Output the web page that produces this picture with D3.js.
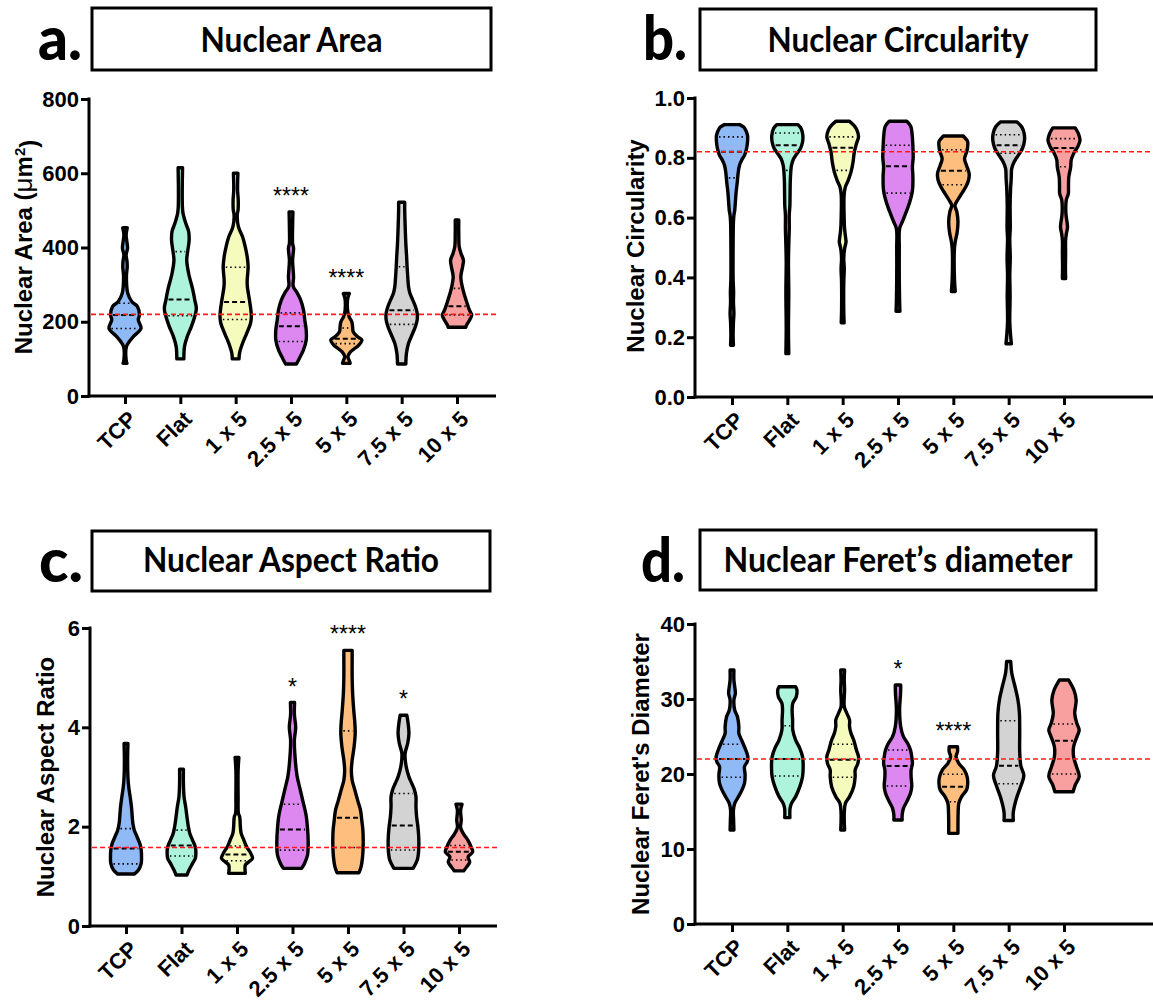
<!DOCTYPE html>
<html>
<head>
<meta charset="utf-8">
<script src="https://cdn.jsdelivr.net/npm/d3@7"></script>
<style>
  body { margin: 0; background: #fff; }
  svg { display: block; }
</style>
</head>
<body>
<div id="chart"></div>
<script>
const width = 1153;
const height = 1007;

const groups = ["TCP", "Flat", "1 x 5", "2.5 x 5", "5 x 5", "7.5 x 5", "10 x 5"];
const fills = ["#8fbaf6", "#aef4dc", "#f4fbbd", "#dd88f1", "#fdbe7e", "#d3d3d3", "#f8a0a0"];

// violin outlines: [value, relative half-width], top to bottom
const areaProfiles = [
  [[453, 0.14], [434, 0.07], [415, 0.12], [398, 0.16], [380, 0.07], [365, 0.12], [348, 0.14], [322, 0.09], [277, 0.17], [254, 0.43], [241, 0.78], [218, 0.9], [205, 0.83], [182, 1.0], [160, 0.52], [146, 0.26], [133, 0.09], [97, 0.07], [88, 0.12]],
  [[615, 0.14], [560, 0.12], [510, 0.13], [492, 0.17], [465, 0.34], [443, 0.52], [420, 0.55], [393, 0.47], [366, 0.4], [330, 0.52], [286, 0.78], [259, 0.9], [236, 1.0], [214, 0.9], [187, 0.69], [160, 0.43], [133, 0.26], [100, 0.22]],
  [[600, 0.14], [555, 0.12], [528, 0.16], [501, 0.15], [488, 0.1], [456, 0.17], [429, 0.43], [402, 0.6], [375, 0.72], [348, 0.78], [312, 0.72], [295, 0.73], [259, 0.86], [232, 0.95], [214, 0.98], [196, 0.93], [169, 0.69], [142, 0.43], [115, 0.24], [100, 0.21]],
  [[496, 0.12], [456, 0.1], [411, 0.1], [398, 0.16], [366, 0.1], [321, 0.16], [295, 0.14], [281, 0.34], [259, 0.6], [232, 0.78], [205, 0.86], [178, 0.95], [151, 0.95], [124, 0.78], [101, 0.52], [86, 0.34]],
  [[276, 0.19], [268, 0.12], [258, 0.07], [230, 0.08], [214, 0.17], [200, 0.34], [187, 0.39], [173, 0.43], [160, 0.69], [151, 0.97], [137, 0.78], [128, 0.52], [119, 0.26], [106, 0.1], [97, 0.17], [88, 0.24]],
  [[522, 0.19], [501, 0.19], [456, 0.22], [411, 0.26], [375, 0.31], [348, 0.34], [321, 0.38], [294, 0.43], [276, 0.52], [259, 0.69], [241, 0.86], [223, 0.97], [205, 0.97], [187, 0.86], [169, 0.69], [142, 0.43], [115, 0.3], [86, 0.26]],
  [[474, 0.11], [438, 0.11], [402, 0.14], [384, 0.25], [366, 0.4], [348, 0.35], [321, 0.24], [285, 0.38], [258, 0.57], [231, 0.78], [218, 0.92], [204, 0.78], [191, 0.6], [185, 0.55]]
];
const areaMedian = [218, 260, 253, 188, 154, 231, 242];
const areaQ1 = [182, 216, 206, 147, 141, 193, 218];
const areaQ3 = [250, 389, 347, 224, 183, 348, 290];
const areaStars = ["", "", "", "****", "****", "", ""];

const circProfiles = [
  [[0.911, 0.47], [0.903, 0.73], [0.892, 0.86], [0.875, 0.97], [0.853, 0.97], [0.831, 0.91], [0.808, 0.78], [0.792, 0.6], [0.775, 0.47], [0.752, 0.39], [0.719, 0.33], [0.686, 0.26], [0.652, 0.21], [0.624, 0.17], [0.608, 0.12], [0.586, 0.09], [0.507, 0.07], [0.396, 0.07], [0.351, 0.1], [0.318, 0.09], [0.279, 0.12], [0.251, 0.09], [0.206, 0.07], [0.173, 0.09]],
  [[0.911, 0.65], [0.898, 0.86], [0.875, 0.97], [0.853, 0.95], [0.831, 0.82], [0.814, 0.6], [0.797, 0.39], [0.775, 0.26], [0.73, 0.19], [0.675, 0.17], [0.641, 0.16], [0.608, 0.12], [0.563, 0.12], [0.507, 0.09], [0.451, 0.07], [0.351, 0.09], [0.228, 0.07], [0.145, 0.09]],
  [[0.922, 0.43], [0.909, 0.69], [0.892, 0.9], [0.87, 0.99], [0.847, 0.86], [0.82, 0.73], [0.786, 0.65], [0.752, 0.52], [0.724, 0.34], [0.703, 0.17], [0.675, 0.09], [0.608, 0.09], [0.563, 0.12], [0.53, 0.19], [0.519, 0.21], [0.496, 0.12], [0.463, 0.07], [0.43, 0.1], [0.385, 0.07], [0.285, 0.07], [0.248, 0.09]],
  [[0.922, 0.55], [0.905, 0.8], [0.88, 0.88], [0.84, 0.93], [0.8, 0.95], [0.77, 0.9], [0.74, 0.93], [0.7, 0.92], [0.68, 0.87], [0.65, 0.72], [0.62, 0.52], [0.59, 0.3], [0.563, 0.1], [0.5, 0.08], [0.4, 0.08], [0.32, 0.1], [0.287, 0.12]],
  [[0.873, 0.62], [0.858, 0.86], [0.853, 0.9], [0.825, 0.86], [0.797, 0.7], [0.775, 0.82], [0.747, 0.99], [0.725, 0.95], [0.703, 0.78], [0.68, 0.52], [0.658, 0.26], [0.641, 0.1], [0.619, 0.22], [0.586, 0.29], [0.552, 0.24], [0.519, 0.12], [0.496, 0.07], [0.396, 0.07], [0.353, 0.12]],
  [[0.92, 0.52], [0.903, 0.82], [0.881, 0.97], [0.858, 0.99], [0.831, 0.86], [0.808, 0.6], [0.786, 0.34], [0.764, 0.19], [0.73, 0.16], [0.697, 0.12], [0.641, 0.09], [0.563, 0.1], [0.53, 0.07], [0.463, 0.1], [0.407, 0.07], [0.34, 0.09], [0.251, 0.07], [0.206, 0.12], [0.178, 0.17]],
  [[0.9, 0.7], [0.881, 0.9], [0.858, 1.0], [0.836, 0.85], [0.814, 0.6], [0.792, 0.45], [0.77, 0.42], [0.736, 0.3], [0.703, 0.28], [0.68, 0.27], [0.658, 0.14], [0.613, 0.12], [0.568, 0.22], [0.547, 0.15], [0.524, 0.1], [0.479, 0.1], [0.435, 0.09], [0.396, 0.1]]
];
const circMedian = [0.82, 0.842, 0.834, 0.772, 0.757, 0.842, 0.833];
const circQ1 = [0.733, 0.758, 0.758, 0.682, 0.71, 0.815, 0.77];
const circQ3 = [0.87, 0.883, 0.87, 0.842, 0.827, 0.877, 0.864];
const circStars = ["", "", "", "", "", "", ""];

const aspectProfiles = [
  [[3.674, 0.12], [3.339, 0.1], [3.003, 0.12], [2.802, 0.17], [2.6, 0.26], [2.4, 0.34], [2.2, 0.39], [2.064, 0.43], [1.93, 0.52], [1.797, 0.69], [1.664, 0.86], [1.529, 0.95], [1.395, 0.97], [1.26, 0.95], [1.126, 0.78], [1.046, 0.52]],
  [[3.158, 0.12], [2.87, 0.12], [2.6, 0.16], [2.4, 0.26], [2.2, 0.34], [1.997, 0.43], [1.863, 0.52], [1.73, 0.69], [1.596, 0.86], [1.462, 0.9], [1.361, 0.86], [1.26, 0.69], [1.126, 0.47], [1.026, 0.34]],
  [[3.393, 0.12], [3.138, 0.07], [2.601, 0.07], [2.266, 0.09], [2.199, 0.17], [1.998, 0.21], [1.864, 0.26], [1.73, 0.43], [1.596, 0.6], [1.462, 0.86], [1.361, 0.97], [1.294, 0.75], [1.227, 0.52], [1.06, 0.52]],
  [[4.5, 0.13], [4.25, 0.12], [4.0, 0.2], [3.75, 0.12], [3.5, 0.14], [3.03, 0.28], [2.76, 0.47], [2.5, 0.66], [2.23, 0.85], [1.96, 0.94], [1.7, 0.98], [1.43, 0.94], [1.26, 0.75], [1.16, 0.57]],
  [[5.55, 0.26], [5.35, 0.26], [5.015, 0.26], [4.68, 0.29], [4.344, 0.36], [4.076, 0.43], [3.875, 0.45], [3.607, 0.38], [3.339, 0.26], [3.138, 0.21], [2.936, 0.26], [2.735, 0.43], [2.534, 0.6], [2.333, 0.78], [2.132, 0.86], [1.93, 0.93], [1.663, 0.95], [1.395, 0.91], [1.194, 0.82], [1.073, 0.69]],
  [[4.244, 0.21], [4.076, 0.29], [3.875, 0.34], [3.674, 0.26], [3.473, 0.1], [3.205, 0.17], [3.003, 0.34], [2.869, 0.52], [2.735, 0.69], [2.601, 0.78], [2.4, 0.78], [2.199, 0.82], [1.998, 0.9], [1.797, 0.95], [1.529, 0.95], [1.328, 0.86], [1.16, 0.6]],
  [[2.454, 0.19], [2.33, 0.1], [2.13, 0.14], [1.98, 0.1], [1.85, 0.29], [1.72, 0.57], [1.59, 0.76], [1.49, 0.86], [1.39, 0.57], [1.29, 0.67], [1.19, 0.48], [1.11, 0.29]]
];
const aspectMedian = [1.56, 1.62, 1.442, 1.944, 2.179, 2.025, 1.494];
const aspectQ1 = [1.25, 1.41, 1.314, 1.528, 1.58, 1.53, 1.33];
const aspectQ3 = [1.96, 1.93, 1.61, 2.45, 3.929, 2.668, 1.62];
const aspectStars = ["", "", "", "*", "****", "*", ""];

const feretProfiles = [
  [[33.87, 0.12], [32.53, 0.12], [31.64, 0.17], [30.76, 0.21], [29.87, 0.12], [28.53, 0.17], [27.64, 0.34], [26.31, 0.43], [25.42, 0.43], [24.53, 0.6], [23.2, 0.86], [22.31, 0.99], [21.64, 0.95], [20.98, 0.78], [19.87, 0.82], [18.76, 0.78], [17.42, 0.52], [16.09, 0.17], [15.2, 0.09], [13.87, 0.1], [12.53, 0.12]],
  [[31.64, 0.52], [31.2, 0.6], [30.31, 0.56], [29.42, 0.34], [28.53, 0.3], [27.2, 0.33], [25.87, 0.34], [24.53, 0.52], [23.42, 0.78], [22.31, 0.95], [20.98, 0.99], [19.64, 0.95], [18.31, 0.78], [16.98, 0.52], [16.09, 0.26], [15.42, 0.17], [14.18, 0.16]],
  [[33.87, 0.12], [32.53, 0.1], [31.2, 0.12], [29.0, 0.1], [28.1, 0.26], [27.2, 0.43], [26.31, 0.43], [25.42, 0.52], [24.53, 0.69], [23.2, 0.86], [22.31, 0.99], [21.42, 0.95], [20.53, 0.78], [19.64, 0.78], [18.31, 0.69], [16.98, 0.43], [16.09, 0.17], [14.76, 0.1], [12.53, 0.12]],
  [[31.87, 0.17], [30.76, 0.16], [28.53, 0.1], [26.31, 0.17], [24.98, 0.34], [24.09, 0.6], [23.2, 0.78], [22.31, 0.86], [21.42, 0.9], [20.53, 0.82], [19.64, 0.82], [18.31, 0.86], [17.42, 0.78], [16.53, 0.6], [15.42, 0.34], [14.53, 0.26], [13.87, 0.26]],
  [[23.64, 0.26], [22.98, 0.26], [22.31, 0.17], [21.42, 0.34], [20.53, 0.69], [19.64, 0.86], [18.76, 0.9], [17.87, 0.82], [16.98, 0.52], [16.09, 0.34], [14.76, 0.3], [13.42, 0.29], [12.09, 0.29]],
  [[35, 0.13], [33.5, 0.19], [31.8, 0.38], [30.0, 0.57], [28.2, 0.67], [25.6, 0.69], [22.9, 0.69], [21.1, 0.76], [19.8, 0.95], [18.4, 0.76], [16.7, 0.48], [14.9, 0.29], [13.8, 0.29]],
  [[32.53, 0.29], [31.2, 0.62], [29.87, 0.76], [28.09, 0.67], [26.76, 0.8], [25.87, 0.95], [24.98, 0.81], [23.64, 0.6], [22.31, 0.6], [20.98, 0.78], [19.64, 0.95], [18.53, 0.7], [17.64, 0.57]]
];
const feretMedian = [22.0, 22.0, 21.9, 21.07, 18.31, 21.1, 24.44];
const feretQ1 = [19.56, 19.73, 19.56, 18.4, 16.31, 18.7, 20.0];
const feretQ3 = [23.96, 26.44, 23.96, 23.2, 19.96, 27.1, 26.67];
const feretStars = ["", "", "", "*", "****", "", ""];

const svg = d3
  .select("#chart")
  .append("svg")
  .attr("width", width)
  .attr("height", height)
  .style("background", "#fff");

const panels = [
  {
    letter: "a.", title: "Nuclear Area", titleW: 182, yLabel: "area",
    domain: [0, 800], ticks: [0, 200, 400, 600, 800], fmt: d3.format("d"),
    profiles: areaProfiles, median: areaMedian, q1: areaQ1, q3: areaQ3, stars: areaStars, ref: 220,
    left: 89, top: 99, bottom: 396, right: 496, c0: 125, c1: 457,
    box: [92, 8, 491, 70], letterPos: [38, 60], titleY: 52, labelPos: [32, 247]
  },
  {
    letter: "b.", title: "Nuclear Circularity", titleW: 261, yLabel: "Nuclear Circularity",
    domain: [0, 1], ticks: [0, 0.2, 0.4, 0.6, 0.8, 1.0], fmt: d3.format(".1f"),
    profiles: circProfiles, median: circMedian, q1: circQ1, q3: circQ3, stars: circStars, ref: 0.82,
    left: 695, top: 98, bottom: 397, right: 1153, c0: 732, c1: 1064,
    box: [700, 9, 1096, 70], letterPos: [643, 60], titleY: 52, labelPos: [644, 246]
  },
  {
    letter: "c.", title: "Nuclear Aspect Ratio", titleW: 296, yLabel: "Nuclear Aspect Ratio",
    domain: [0, 6], ticks: [0, 2, 4, 6], fmt: d3.format("d"),
    profiles: aspectProfiles, median: aspectMedian, q1: aspectQ1, q3: aspectQ3, stars: aspectStars, ref: 1.58,
    left: 90, top: 628, bottom: 926, right: 497, c0: 126, c1: 459,
    box: [92, 531, 490, 591], letterPos: [39, 582], titleY: 572, labelPos: [54, 777]
  },
  {
    letter: "d.", title: "Nuclear Feret\u2019s diameter", titleW: 349, yLabel: "Nuclear Feret's Diameter",
    domain: [0, 40], ticks: [0, 10, 20, 30, 40], fmt: d3.format("d"),
    profiles: feretProfiles, median: feretMedian, q1: feretQ1, q3: feretQ3, stars: feretStars, ref: 22,
    left: 695, top: 624, bottom: 924, right: 1153, c0: 732, c1: 1064,
    box: [700, 530, 1096, 590], letterPos: [641, 582], titleY: 572, labelPos: [649, 774]
  }
];

const halfW = d3.scaleLinear().domain([0, 1]).range([0, 16]);

function widthAt(profile, v) {
  for (let k = 0; k < profile.length - 1; k++) {
    const a = profile[k], b = profile[k + 1];
    if (v <= a[0] && v >= b[0]) {
      const t = (a[0] - v) / (a[0] - b[0]);
      return a[1] + t * (b[1] - a[1]);
    }
  }
  return profile[profile.length - 1][1];
}

panels.forEach(drawPanel);

function drawPanel(p) {
  const g = svg.append("g");

  // title box and panel letter
  g.append("rect")
    .attr("x", p.box[0]).attr("y", p.box[1])
    .attr("width", p.box[2] - p.box[0]).attr("height", p.box[3] - p.box[1])
    .attr("fill", "#fff").attr("stroke", "#000").attr("stroke-width", 3);
  g.append("text")
    .attr("x", (p.box[0] + p.box[2]) / 2).attr("y", p.titleY)
    .attr("text-anchor", "middle")
    .attr("textLength", p.titleW).attr("lengthAdjust", "spacingAndGlyphs")
    .style("font-family", "Lato, 'Open Sans', sans-serif")
    .style("font-weight", 700).style("font-size", "34px")
    .text(p.title);
  g.append("text")
    .attr("x", p.letterPos[0]).attr("y", p.letterPos[1])
    .attr("textLength", 44).attr("lengthAdjust", "spacingAndGlyphs")
    .style("font-family", "Lato, 'Open Sans', sans-serif")
    .style("font-weight", 900).style("font-size", "60px")
    .text(p.letter);

  const y = d3.scaleLinear().domain(p.domain).range([p.bottom, p.top]);
  const x = d3.scalePoint().domain(groups).range([p.c0, p.c1]);

  // y axis
  const yAxis = g.append("g")
    .attr("transform", `translate(${p.left},0)`)
    .call(d3.axisLeft(y).tickValues(p.ticks).tickFormat(p.fmt).tickSize(8).tickSizeOuter(0).tickPadding(2));
  yAxis.select(".domain").remove();
  yAxis.append("line")
    .attr("x1", 0).attr("x2", 0).attr("y1", p.top - 1.5).attr("y2", p.bottom + 1.5)
    .attr("stroke", "#000").attr("stroke-width", 3);
  yAxis.selectAll(".tick line").attr("stroke", "#000").attr("stroke-width", 3);
  yAxis.selectAll(".tick text")
    .attr("fill", "#000")
    .style("font-family", "'Liberation Sans', Arial, sans-serif")
    .style("font-weight", 700).style("font-size", "22px");

  // x axis
  const xAxis = g.append("g")
    .attr("transform", `translate(0,${p.bottom})`)
    .call(d3.axisBottom(x).tickSize(8).tickSizeOuter(0).tickPadding(0));
  xAxis.select(".domain").remove();
  xAxis.append("line")
    .attr("x1", p.left - 1.5).attr("x2", p.right).attr("y1", 0).attr("y2", 0)
    .attr("stroke", "#000").attr("stroke-width", 3);
  xAxis.selectAll(".tick line").attr("stroke", "#000").attr("stroke-width", 3);
  xAxis.selectAll(".tick text")
    .attr("fill", "#000")
    .attr("text-anchor", "end")
    .attr("transform", "translate(7,19) rotate(-45)")
    .attr("y", 0).attr("dy", "0.35em")
    .style("font-family", "'Liberation Sans', Arial, sans-serif")
    .style("font-weight", 700).style("font-size", "22px");

  // y axis label
  const lab = g.append("text")
    .attr("transform", `translate(${p.labelPos[0]},${p.labelPos[1]}) rotate(-90)`)
    .attr("text-anchor", "middle")
    .style("font-family", "'Liberation Sans', Arial, sans-serif")
    .style("font-weight", 700).style("font-size", "24px");
  if (p.yLabel === "area") {
    lab.append("tspan").text("Nuclear Area (");
    lab.append("tspan").style("font-weight", 400).style("font-size", "26px").text("\u03bc");
    lab.append("tspan").text("m");
    lab.append("tspan").attr("dy", "-0.5em").style("font-size", "15px").text("2");
    lab.append("tspan").attr("dy", "0.5em").text(")");
  } else {
    lab.text(p.yLabel);
  }

  // violins
  const violins = g.append("g");
  p.profiles.forEach((prof, i) => {
    const cx = x(groups[i]);
    const area = d3.area()
      .y((d) => y(d[0]))
      .x0((d) => cx - halfW(d[1]))
      .x1((d) => cx + halfW(d[1]))
      .curve(d3.curveCatmullRom.alpha(0.5));
    violins.append("path")
      .attr("d", area(prof))
      .attr("fill", fills[i])
      .attr("stroke", "#000")
      .attr("stroke-width", 3.4)
      .attr("stroke-linejoin", "round");

    const qLine = (v, dash, sw) => {
      const hw = Math.max(halfW(widthAt(prof, v)) - 2.5, 1);
      violins.append("line")
        .attr("x1", cx - hw).attr("x2", cx + hw)
        .attr("y1", y(v)).attr("y2", y(v))
        .attr("stroke", "#000").attr("stroke-width", sw)
        .attr("stroke-dasharray", dash);
    };
    qLine(p.q1[i], "1.5,3", 1.6);
    qLine(p.q3[i], "1.5,3", 1.6);
    qLine(p.median[i], "5,3", 2);

    if (p.stars[i]) {
      g.append("text")
        .attr("x", cx).attr("y", y(prof[0][0]) - 8)
        .attr("text-anchor", "middle")
        .style("font-family", "'Liberation Sans', Arial, sans-serif")
        .style("font-size", "23px")
        .text(p.stars[i]);
    }
  });

  // reference line
  g.append("line")
    .attr("x1", p.left + 2).attr("x2", p.right)
    .attr("y1", y(p.ref)).attr("y2", y(p.ref))
    .attr("stroke", "#ff1a1a").attr("stroke-width", 1.6)
    .attr("stroke-dasharray", "5,3");
}
</script>
</body>
</html>
